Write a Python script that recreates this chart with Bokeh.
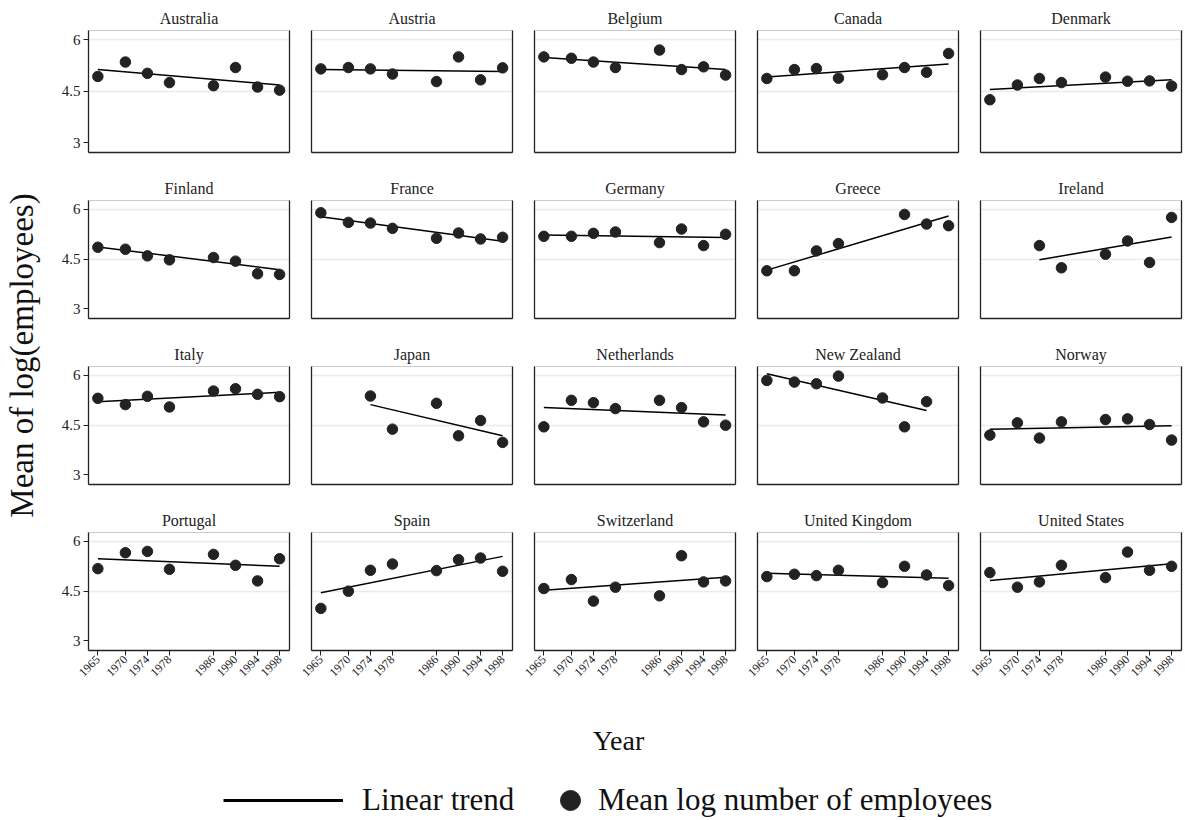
from bokeh.plotting import figure
from bokeh.models import Range1d, LinearAxis, FixedTicker, Legend, LegendItem, Grid
from bokeh.layouts import row, column
from bokeh.embed import file_html
from bokeh.resources import INLINE
import math

FONT = "Liberation Serif"

years = [1965, 1970, 1974, 1978, 1986, 1990, 1994, 1998]
x_tick_labels = ["1965", "1970", "1974", "1978", "1986", "1990", "1994", "1998"]
y_ticks = [3, 4.5, 6]
y_tick_labels = ["3", "4.5", "6"]

countries = ["Australia", "Austria", "Belgium", "Canada", "Denmark",
             "Finland", "France", "Germany", "Greece", "Ireland",
             "Italy", "Japan", "Netherlands", "New Zealand", "Norway",
             "Portugal", "Spain", "Switzerland", "United Kingdom", "United States"]

australia = [4.93, 5.35, 5.02, 4.75, 4.66, 5.19, 4.62, 4.53]
austria = [5.15, 5.19, 5.15, 5.00, 4.78, 5.50, 4.83, 5.18]
belgium = [5.50, 5.46, 5.35, 5.19, 5.70, 5.13, 5.21, 4.97]
canada = [4.87, 5.13, 5.16, 4.88, 4.98, 5.19, 5.05, 5.60]
denmark = [4.25, 4.68, 4.87, 4.75, 4.91, 4.79, 4.80, 4.65]
finland = [4.86, 4.80, 4.60, 4.48, 4.55, 4.44, 4.06, 4.04]
france = [5.90, 5.61, 5.59, 5.43, 5.13, 5.29, 5.11, 5.16]
germany = [5.19, 5.19, 5.28, 5.32, 5.00, 5.41, 4.91, 5.25]
greece = [4.15, 4.15, 4.75, 4.97, None, 5.85, 5.56, 5.51]
ireland = [None, None, 4.91, 4.24, 4.65, 5.05, 4.40, 5.76]
italy = [5.31, 5.12, 5.37, 5.05, 5.53, 5.60, 5.43, 5.36]
japan = [None, None, 5.38, 4.38, 5.16, 4.18, 4.64, 3.98]
netherlands = [4.45, 5.25, 5.18, 5.00, 5.25, 5.03, 4.60, 4.50]
new_zealand = [5.85, 5.80, 5.75, 5.98, 5.32, 4.45, 5.21, None]
norway = [4.20, 4.57, 4.11, 4.60, 4.67, 4.69, 4.52, 4.05]
portugal = [5.18, 5.66, 5.70, 5.16, 5.61, 5.28, 4.81, 5.48]
spain = [3.98, 4.50, 5.13, 5.32, 5.12, 5.45, 5.50, 5.10]
switzerland = [4.58, 4.85, 4.20, 4.62, 4.36, 5.57, 4.78, 4.81]
united_kingdom = [4.94, 5.01, 4.97, 5.13, 4.76, 5.25, 4.99, 4.67]
united_states = [5.06, 4.62, 4.78, 5.28, 4.91, 5.68, 5.13, 5.25]

# linear trend: value at first and last observed year of each country
trend_start = [5.13, 5.13, 5.48, 4.91, 4.55, 4.87, 5.78, 5.23, 4.17, 4.48,
               5.21, 5.12, 5.03, 6.05, 4.38, 5.48, 4.45, 4.53, 5.04, 4.82]
trend_end = [4.68, 5.07, 5.13, 5.29, 4.83, 4.18, 5.04, 5.15, 5.80, 5.17,
             5.49, 4.18, 4.81, 4.94, 4.48, 5.25, 5.55, 4.92, 4.89, 5.33]

series = [australia, austria, belgium, canada, denmark, finland, france, germany,
          greece, ireland, italy, japan, netherlands, new_zealand, norway,
          portugal, spain, switzerland, united_kingdom, united_states]

FRAME_W, FRAME_H = 201, 122
DOT = "#222222"
AX = "#222222"


def make_panel(i):
    r, c = divmod(i, 5)
    left = 40 if c == 0 else 11
    right = 3 if c == 4 else 11
    top = 30 if r == 0 else 22
    bottom = 50 if r == 3 else 22
    p = figure(width=left + FRAME_W + right, height=top + FRAME_H + bottom,
               x_range=Range1d(1963.3, 1999.8), y_range=Range1d(2.71, 6.27),
               output_backend="svg", toolbar_location=None, tools="",
               min_border_left=left, min_border_right=right,
               min_border_top=top, min_border_bottom=bottom,
               x_axis_location=None, y_axis_location=None, title=countries[i])
    p.grid.visible = False
    p.add_layout(Grid(dimension=1, ticker=FixedTicker(ticks=[4.5, 6]),
                      grid_line_color="#e4eef1", grid_line_width=1.5))
    p.outline_line_color = "#cccccc"
    p.outline_line_width = 1
    p.background_fill_color = "white"
    p.border_fill_color = "white"

    t = p.title
    t.text_font = FONT
    t.text_font_size = "16px"
    t.text_font_style = "normal"
    t.text_color = "#222222"
    t.align = "center"
    t.standoff = 7

    if c == 0:
        la = LinearAxis(ticker=FixedTicker(ticks=y_ticks),
                        major_label_overrides={k: v for k, v in zip(y_ticks, y_tick_labels)})
        la.major_tick_out = 5
        la.major_tick_in = 0
        la.major_tick_line_color = AX
        la.major_label_text_font = FONT
        la.major_label_text_font_size = "15px"
        la.major_label_text_color = "#222222"
        la.major_label_standoff = 3
    else:
        la = LinearAxis(ticker=FixedTicker(ticks=[]))
    la.axis_line_color = AX
    la.axis_line_width = 1.3
    p.add_layout(la, "left")

    ra = LinearAxis(ticker=FixedTicker(ticks=[]))
    ra.axis_line_color = AX
    ra.axis_line_width = 1.3
    p.add_layout(ra, "right")

    if r == 3:
        ba = LinearAxis(ticker=FixedTicker(ticks=years),
                        major_label_overrides={k: v for k, v in zip(years, x_tick_labels)})
        ba.major_tick_out = 5
        ba.major_tick_in = 0
        ba.major_tick_line_color = AX
        ba.major_label_text_font = FONT
        ba.major_label_text_font_size = "12px"
        ba.major_label_text_color = "#222222"
        ba.major_label_orientation = math.pi / 4
        ba.major_label_standoff = 2
    else:
        ba = LinearAxis(ticker=FixedTicker(ticks=[]))
    ba.axis_line_color = AX
    ba.axis_line_width = 1.3
    p.add_layout(ba, "below")

    vals = series[i]
    xs = [y for y, v in zip(years, vals) if v is not None]
    ys = [v for v in vals if v is not None]
    p.line([xs[0], xs[-1]], [trend_start[i], trend_end[i]], line_color="black", line_width=1.5)
    p.scatter(xs, ys, size=10.5, color=DOT)
    return p


panels = [make_panel(i) for i in range(20)]
grid_rows = [row(*panels[k * 5:(k + 1) * 5]) for k in range(4)]
grid = column(*grid_rows)

ylab = figure(width=48, height=700, x_range=Range1d(0, 1), y_range=Range1d(0, 1),
              output_backend="svg", toolbar_location=None, tools="",
              min_border_left=38, min_border_right=0, min_border_top=30, min_border_bottom=20,
              x_axis_location=None, y_axis_location=None)
ylab.grid.visible = False
ylab.outline_line_color = None
yax = LinearAxis(ticker=FixedTicker(ticks=[]), axis_label="Mean of log(employees)")
yax.axis_line_color = None
yax.axis_label_text_font = FONT
yax.axis_label_text_font_size = "33px"
yax.axis_label_text_font_style = "normal"
yax.axis_label_text_color = "#111111"
yax.axis_label_standoff = 0
ylab.add_layout(yax, "left")

bot = figure(width=1184, height=118, x_range=Range1d(0, 1), y_range=Range1d(0, 1),
             output_backend="svg", toolbar_location=None, tools="",
             min_border_left=52, min_border_right=0, min_border_top=55, min_border_bottom=0,
             x_axis_location=None, y_axis_location=None, title="Year")
bot.grid.visible = False
bot.outline_line_color = None
bot.title.text_font = FONT
bot.title.text_font_size = "28px"
bot.title.text_font_style = "normal"
bot.title.text_color = "#111111"
bot.title.align = "center"
bot.title.standoff = 0

# legend renderers: Australia's series, lying outside this figure's visible range
r_line = bot.line(x=[years[0], years[-1]], y=[trend_start[0], trend_end[0]],
                  line_color="black", line_width=3)
r_dot = bot.scatter(x=years, y=australia, size=10.5, color=DOT)

common = dict(padding=0, margin=0, border_line_color=None, background_fill_alpha=0,
              label_text_font=FONT, label_text_font_size="31px", label_text_color="#111111",
              glyph_height=50, label_height=50)
leg1 = Legend(items=[LegendItem(label="Linear trend", renderers=[r_line])],
              location=(171, -7), glyph_width=120, label_standoff=19, **common)
leg2 = Legend(items=[LegendItem(label="Mean log number of employees", renderers=[r_dot])],
              location=(493, -7), glyph_width=50, label_standoff=3, **common)
bot.add_layout(leg1)
bot.add_layout(leg2)

layout = column(row(ylab, grid), bot)

open("out.html", "w").write(file_html(layout, INLINE))
